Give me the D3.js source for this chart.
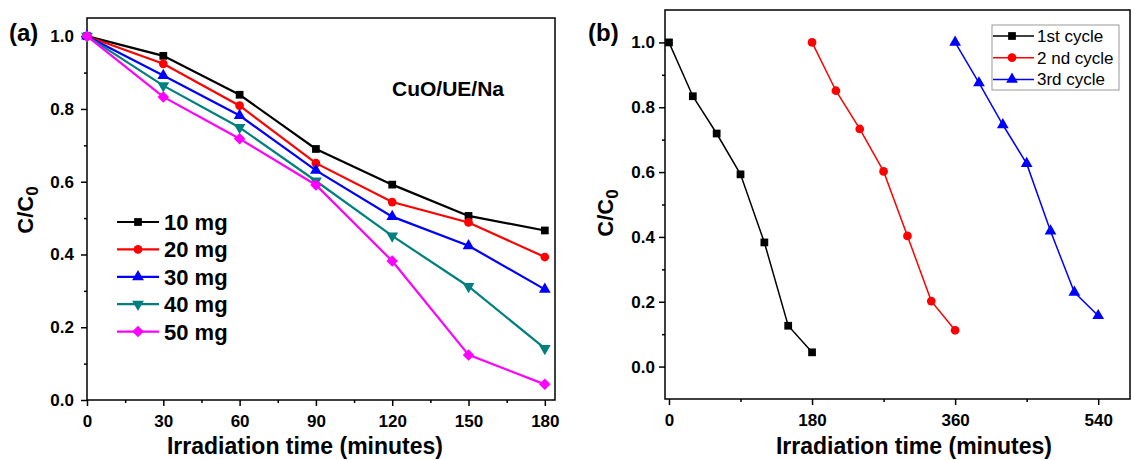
<!DOCTYPE html>
<html lang="en">
<head>
<meta charset="UTF-8">
<title>CuO/UE/Na photodegradation</title>
<script src="https://d3js.org/d3.v7.min.js"></script>
<style>
  body { margin: 0; background: white; }
  svg { display: block; font-family: "Liberation Sans", Arial, sans-serif; }
  .tick text { font-weight: bold; font-size: 17px; fill: #000; }
  .axis path, .axis line { stroke: #000; stroke-width: 1.5px; }
</style>
</head>
<body>
<svg width="1135" height="460"></svg>
<script>
  // panel (a): dose series
  const timesA = [0, 30, 60, 90, 120, 150, 180];
  const doseNames = ["10 mg", "20 mg", "30 mg", "40 mg", "50 mg"];
  const dose10 = [1.0, 0.946, 0.839, 0.690, 0.592, 0.506, 0.466];
  const dose20 = [1.0, 0.924, 0.809, 0.651, 0.544, 0.488, 0.393];
  const dose30 = [1.0, 0.892, 0.782, 0.631, 0.504, 0.424, 0.304];
  const dose40 = [1.0, 0.864, 0.749, 0.602, 0.451, 0.312, 0.142];
  const dose50 = [1.0, 0.833, 0.718, 0.591, 0.382, 0.124, 0.043];
  const xTicksA = [0, 30, 60, 90, 120, 150, 180];
  const yTicksA = [0, 0.2, 0.4, 0.6, 0.8, 1.0];

  // panel (b): recycle runs
  const cycleNames = ["1st cycle", "2 nd cycle", "3rd cycle"];
  const cycle1X = [0, 30, 60, 90, 120, 150, 180];
  const cycle1Y = [1.0, 0.834, 0.719, 0.593, 0.383, 0.126, 0.044];
  const cycle2X = [180, 210, 240, 270, 300, 330, 360];
  const cycle2Y = [1.0, 0.851, 0.733, 0.602, 0.403, 0.202, 0.112];
  const cycle3X = [360, 390, 420, 450, 480, 510, 540];
  const cycle3Y = [1.0, 0.875, 0.746, 0.626, 0.418, 0.229, 0.157];
  const xTicksB = [0, 180, 360, 540];
  const yTicksB = [0, 0.2, 0.4, 0.6, 0.8, 1.0];

  const colors = ["#000000", "#ff0000", "#0000ff", "#007f7f", "#ff00ff"];
  const symbols = [
    { type: d3.symbolSquare, rot: 0, k: 1 },
    { type: d3.symbolCircle, rot: 0, k: 1 },
    { type: d3.symbolTriangle, rot: 0, k: 1 },
    { type: d3.symbolTriangle, rot: 180, k: 1 },
    { type: d3.symbolSquare, rot: 45, k: 1.1 }
  ];

  const svg = d3.select("svg");

  function drawFrame(x, y, xTicks, xMinor, yTicks, yMinor, yPad) {
    const [x0, x1] = x.range();
    const [y0, y1] = y.range();
    const g = svg.append("g");
    g.append("g").attr("class", "axis")
      .attr("transform", `translate(0,${y0})`)
      .call(d3.axisBottom(x).tickValues(xTicks).tickSize(6).tickSizeOuter(0).tickPadding(9).tickFormat(d3.format("d")))
      .call(a => a.select(".domain").remove());
    g.append("g").attr("class", "axis")
      .attr("transform", `translate(0,${y0})`)
      .call(d3.axisBottom(x).tickValues(xMinor).tickSize(3).tickFormat(""))
      .call(a => a.select(".domain").remove());
    g.append("g").attr("class", "axis")
      .attr("transform", `translate(${x0},0)`)
      .call(d3.axisLeft(y).tickValues(yTicks).tickSize(6).tickPadding(yPad).tickFormat(d3.format(".1f")))
      .call(a => a.select(".domain").remove());
    g.append("g").attr("class", "axis")
      .attr("transform", `translate(${x0},0)`)
      .call(d3.axisLeft(y).tickValues(yMinor).tickSize(3).tickFormat(""))
      .call(a => a.select(".domain").remove());
    g.append("rect")
      .attr("x", x0).attr("y", y1)
      .attr("width", x1 - x0).attr("height", y0 - y1)
      .attr("fill", "none").attr("stroke", "#000").attr("stroke-width", 1.5);
  }

  function marker(i, size) {
    return d3.symbol().type(symbols[i].type).size(size * symbols[i].k)();
  }

  function drawSeries(x, y, xs, ys, i, width, size) {
    const line = d3.line().x(d => x(d[0])).y(d => y(d[1]));
    const pts = d3.zip(xs, ys);
    svg.append("path").datum(pts)
      .attr("d", line).attr("fill", "none")
      .attr("stroke", colors[i]).attr("stroke-width", width);
    svg.append("g").selectAll("path").data(pts).join("path")
      .attr("d", marker(i, size))
      .attr("transform", d => `translate(${x(d[0])},${y(d[1])}) rotate(${symbols[i].rot})`)
      .attr("fill", colors[i]);
  }

  function yLabel(cx, cy) {
    const t = svg.append("text")
      .attr("transform", `translate(${cx},${cy}) rotate(-90)`)
      .attr("text-anchor", "middle")
      .attr("font-size", 22).attr("font-weight", "bold");
    t.append("tspan").text("C/C");
    t.append("tspan").attr("dy", 5).attr("font-size", 17).text("0");
  }

  function xLabel(cx) {
    svg.append("text").attr("x", cx).attr("y", 454).attr("text-anchor", "middle")
      .attr("font-size", 23).attr("font-weight", "bold").text("Irradiation time (minutes)");
  }

  // ---- panel (a)
  const xA = d3.scaleLinear().domain([0, 184]).range([87, 555]);
  const yA = d3.scaleLinear().domain([0, 1.05]).range([400, 18]);
  drawFrame(xA, yA, xTicksA, d3.range(15, 180, 30), yTicksA, d3.range(0.1, 1.05, 0.2), 7);
  const doseSeries = [dose10, dose20, dose30, dose40, dose50];
  doseSeries.forEach((s, i) => drawSeries(xA, yA, timesA, s, i, 2.2, 60));

  svg.append("text").attr("x", 9).attr("y", 41)
    .attr("font-size", 24).attr("font-weight", "bold").text("(a)");
  svg.append("text").attr("x", 392).attr("y", 96)
    .attr("font-size", 21).attr("font-weight", "bold").text("CuO/UE/Na");
  xLabel(305);
  yLabel(33, 210);

  const legA = svg.append("g");
  doseNames.forEach((name, i) => {
    const ly = 222 + i * 27.4;
    legA.append("line").attr("x1", 117).attr("x2", 159).attr("y1", ly).attr("y2", ly)
      .attr("stroke", colors[i]).attr("stroke-width", 2.2);
    legA.append("path")
      .attr("d", marker(i, 60))
      .attr("transform", `translate(138,${ly}) rotate(${symbols[i].rot})`)
      .attr("fill", colors[i]);
    legA.append("text").attr("x", 164).attr("y", ly + 8)
      .attr("font-size", 22).attr("font-weight", "bold").text(name);
  });

  // ---- panel (b)
  const xB = d3.scaleLinear().domain([-5, 580]).range([665, 1130]);
  const yB = d3.scaleLinear().domain([-0.1, 1.1]).range([399, 10]);
  drawFrame(xB, yB, xTicksB, [90, 270, 450], yTicksB, [0.1, 0.3, 0.5, 0.7, 0.9], 4);
  const cycles = [[cycle1X, cycle1Y], [cycle2X, cycle2Y], [cycle3X, cycle3Y]];
  cycles.forEach((c, i) => drawSeries(xB, yB, c[0], c[1], i, 1.5, 60));

  svg.append("text").attr("x", 588).attr("y", 41)
    .attr("font-size", 24).attr("font-weight", "bold").text("(b)");
  xLabel(914);
  yLabel(613, 213);

  const legB = svg.append("g");
  legB.append("rect").attr("x", 992).attr("y", 25).attr("width", 127).attr("height", 65)
    .attr("fill", "white").attr("stroke", "#999").attr("stroke-width", 1);
  cycleNames.forEach((name, i) => {
    const ly = 36 + i * 21.7;
    legB.append("line").attr("x1", 993).attr("x2", 1034).attr("y1", ly).attr("y2", ly)
      .attr("stroke", colors[i]).attr("stroke-width", 1.5);
    legB.append("path")
      .attr("d", marker(i, 60))
      .attr("transform", `translate(1012,${ly})`)
      .attr("fill", colors[i]);
    legB.append("text").attr("x", 1037).attr("y", ly + 6)
      .attr("font-size", 17).text(name);
  });
</script>
</body>
</html>
